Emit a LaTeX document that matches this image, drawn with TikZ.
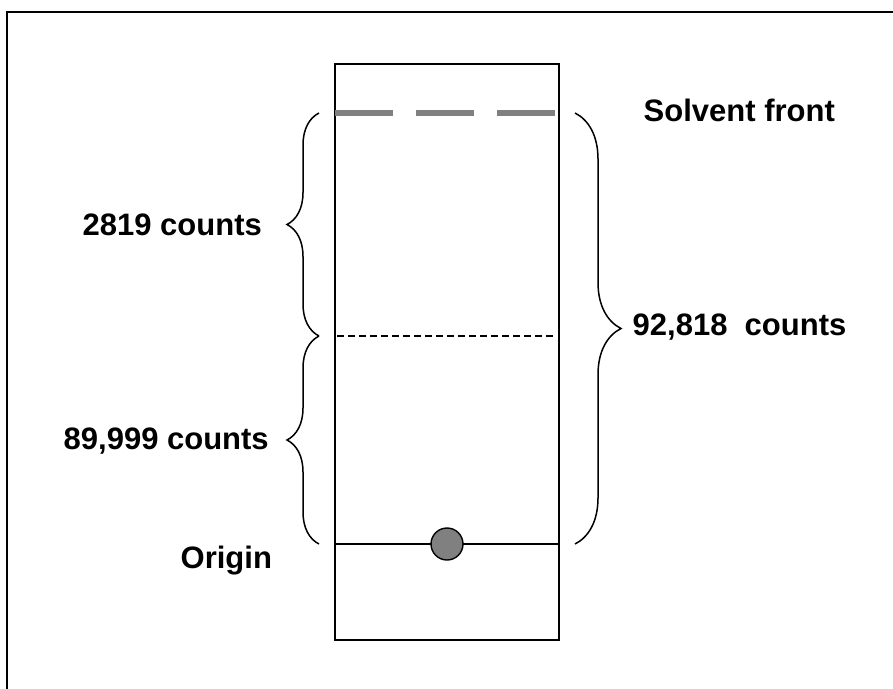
\documentclass[tikz,border=0pt]{standalone}
\usepackage{fontspec}
\setmainfont{Liberation Sans}
\usetikzlibrary{decorations.pathreplacing}

\begin{document}
\begin{tikzpicture}[x=1pt, y=-1pt, line width=1.4pt,
  lbl/.style={font=\fontsize{31}{36}\selectfont\bfseries, inner sep=0pt, anchor=base west},
  brc/.style={decorate, decoration={brace, amplitude=#1}, line width=1.5pt}]
\useasboundingbox (0,0) rectangle (893,688);
\clip (0,0) rectangle (893,688);
% outer frame (runs off the right and bottom edge)
\draw[line width=2pt] (7,12) rectangle (905,700);
% plate
\draw[line width=2pt] (335,64) rectangle (559,640);
\draw[gray, line width=6pt, dash pattern=on 58pt off 23pt] (335,112.7) -- (558,112.7);
\draw[line width=1.6pt, dash pattern=on 7pt off 4pt] (337,336) -- (555,336);
\draw (335,544) -- (559,544);
\node[circle, draw, fill=gray, minimum size=32pt, inner sep=0pt] (spot) at (447,544) {};
% brace ends
\coordinate (frontL) at (319,113);
\coordinate (midL) at (319,336);
\coordinate (origL) at (319,544);
\coordinate (frontR) at (575,113);
\coordinate (origR) at (575,544);
% labels
\node[lbl] (front) at (643,121) {Solvent front};
\node[lbl] (upper) at (82,235) {2819 counts};
\node[lbl] (lower) at (63,449) {89,999 counts};
\node[lbl] (total) at (632,335) {92,818\ \ counts};
\node[lbl] (origin) at (180,568) {Origin};
% braces
\draw[brc=32pt] (midL) -- (frontL);
\draw[brc=32pt] (origL) -- (midL);
\draw[brc=46pt] (frontR) -- (origR);
\end{tikzpicture}
\end{document}
